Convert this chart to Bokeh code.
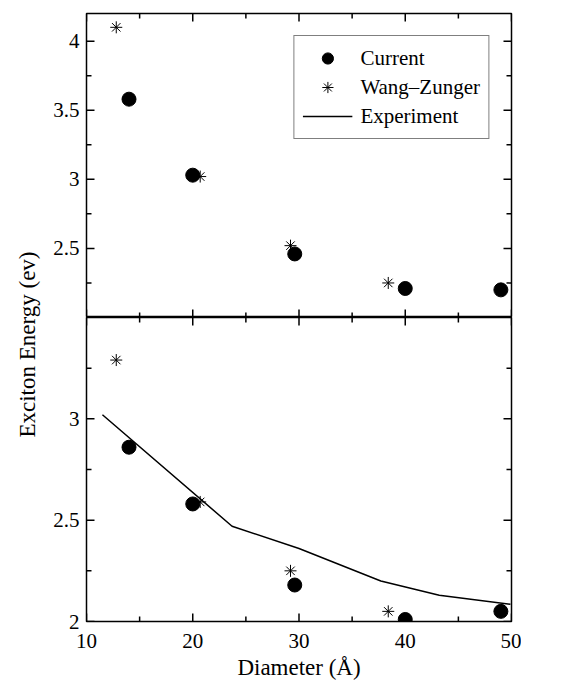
import math
from bokeh.plotting import figure
from bokeh.layouts import row, column
from bokeh.models import LinearAxis, FixedTicker, Legend, LegendItem, Label, Range1d
from bokeh.embed import file_html
from bokeh.resources import INLINE

# ---- data ----
diam_current = [14.0, 20.0, 29.6, 40.0, 49.0]
current_top = [3.58, 3.03, 2.46, 2.21, 2.20]
current_bottom = [2.86, 2.58, 2.18, 2.01, 2.05]

diam_wz = [12.8, 20.7, 29.2, 38.4]
wz_top = [4.10, 3.02, 2.52, 2.25]
wz_bottom = [3.29, 2.59, 2.25, 2.05]

exp_diam = [11.5, 23.7, 30.0, 37.7, 43.2, 49.9]
exp_energy = [3.02, 2.47, 2.36, 2.20, 2.13, 2.085]

x_ticks = [10, 20, 30, 40, 50]
x_minor = [15, 25, 35, 45]
top_y_ticks = [2.5, 3, 3.5, 4]
top_y_minor = [2.25, 2.75, 3.25, 3.75]
bot_y_ticks = [2, 2.5, 3]
bot_y_minor = [2.25, 2.75, 3.25]

FONT = "Liberation Serif"
FRAME_W, FRAME_H = 425, 304
MAJOR_PX, MINOR_PX = 8, 5


def label_axis(ticks, standoff):
    ax = LinearAxis(ticker=FixedTicker(ticks=ticks))
    ax.major_tick_in = 0
    ax.major_tick_out = 0
    ax.minor_tick_in = 0
    ax.minor_tick_out = 0
    ax.axis_line_color = None
    ax.major_label_text_font = FONT
    ax.major_label_text_color = "black"
    ax.major_label_text_font_size = "21px"
    ax.major_label_standoff = standoff
    return ax


def inner_ticks(p, xr, yr, yt, ym):
    """Inward tick marks along all four frame edges, lengths given in pixels."""
    dy_per_px = (yr[1] - yr[0]) / FRAME_H
    dx_per_px = (xr[1] - xr[0]) / FRAME_W
    for xs, px in ((x_ticks, MAJOR_PX), (x_minor, MINOR_PX)):
        n = len(xs)
        p.segment(x0=xs, y0=[yr[0]] * n, x1=xs, y1=[yr[0] + px * dy_per_px] * n,
                  line_color="black", line_width=1.5)
        p.segment(x0=xs, y0=[yr[1]] * n, x1=xs, y1=[yr[1] - px * dy_per_px] * n,
                  line_color="black", line_width=1.5)
    for ys, px in ((yt, MAJOR_PX), (ym, MINOR_PX)):
        n = len(ys)
        p.segment(x0=[xr[0]] * n, y0=ys, x1=[xr[0] + px * dx_per_px] * n, y1=ys,
                  line_color="black", line_width=1.5)
        p.segment(x0=[xr[1]] * n, y0=ys, x1=[xr[1] - px * dx_per_px] * n, y1=ys,
                  line_color="black", line_width=1.5)


def base_fig(yr, top_border, bottom_border):
    p = figure(frame_width=FRAME_W, frame_height=FRAME_H,
               x_range=Range1d(10, 50), y_range=Range1d(*yr),
               x_axis_location=None, y_axis_location=None,
               toolbar_location=None, output_backend="svg",
               min_border_left=44, min_border_right=10,
               min_border_top=top_border, min_border_bottom=bottom_border)
    p.grid.visible = False
    p.outline_line_color = "black"
    p.outline_line_width = 1.5
    p.background_fill_color = "white"
    p.border_fill_color = "white"
    return p


XR = (10, 50)
TOP_YR = (2.0, 4.2)
BOT_YR = (2.0, 3.5)

# ---- top panel ----
p1 = base_fig(TOP_YR, 13, 0)
p1.add_layout(label_axis(top_y_ticks, 7), "left")
inner_ticks(p1, XR, TOP_YR, top_y_ticks, top_y_minor)

r_c1 = p1.scatter(diam_current, current_top, marker="circle", size=14,
                  fill_color="black", line_color="black")
r_w1 = p1.scatter(diam_wz, wz_top, marker="asterisk", size=12,
                  line_color="black", line_width=1)
# single-point proxy (draws nothing in the panel) so that the legend shows the line
r_e1 = p1.line(exp_diam[:1], exp_energy[:1], line_color="black", line_width=1.5)

legend = Legend(items=[
    LegendItem(label="Current", renderers=[r_c1]),
    LegendItem(label="Wang\u2013Zunger", renderers=[r_w1]),
    LegendItem(label="Experiment", renderers=[r_e1]),
], location="top_right")
legend.margin = 22
legend.label_text_font = FONT
legend.label_text_font_size = "21px"
legend.label_text_color = "black"
legend.label_height = 26
legend.glyph_height = 28
legend.glyph_width = 50
legend.label_standoff = 8
legend.spacing = 1
legend.padding = 8
legend.border_line_color = "black"
legend.border_line_width = 1
legend.background_fill_alpha = 1
p1.add_layout(legend, "center")

# ---- bottom panel ----
p2 = base_fig(BOT_YR, 0, 0)
p2.add_layout(label_axis(bot_y_ticks, 7), "left")
xb = label_axis(x_ticks, 12)
xb.axis_label = "Diameter (\u00c5)"
xb.axis_label_text_font = FONT
xb.axis_label_text_font_size = "23px"
xb.axis_label_text_font_style = "normal"
xb.axis_label_text_color = "black"
xb.axis_label_standoff = 4
p2.add_layout(xb, "below")
inner_ticks(p2, XR, BOT_YR, bot_y_ticks, bot_y_minor)

p2.line(exp_diam, exp_energy, line_color="black", line_width=1.5)
p2.scatter(diam_current, current_bottom, marker="circle", size=14,
           fill_color="black", line_color="black")
p2.scatter(diam_wz, wz_bottom, marker="asterisk", size=12,
           line_color="black", line_width=1)

# ---- y label panel ----
TOTAL_H = 670
pl = figure(width=42, height=TOTAL_H, x_range=Range1d(0, 42), y_range=Range1d(0, TOTAL_H),
            x_axis_location=None, y_axis_location=None, toolbar_location=None,
            output_backend="svg", min_border=0, min_border_left=0, min_border_right=0,
            min_border_top=0, min_border_bottom=0)
pl.grid.visible = False
pl.outline_line_color = None
pl.border_fill_color = "white"
pl.background_fill_color = "white"
pl.add_layout(Label(x=27, y=TOTAL_H - 344, text="Exciton Energy (ev)", angle=math.pi / 2,
                    text_align="center", text_baseline="middle",
                    text_font=FONT, text_font_size="23px", text_color="black"))

layout = row(pl, column(p1, p2, spacing=0), spacing=0)

open("out.html", "w").write(file_html(layout, INLINE))
